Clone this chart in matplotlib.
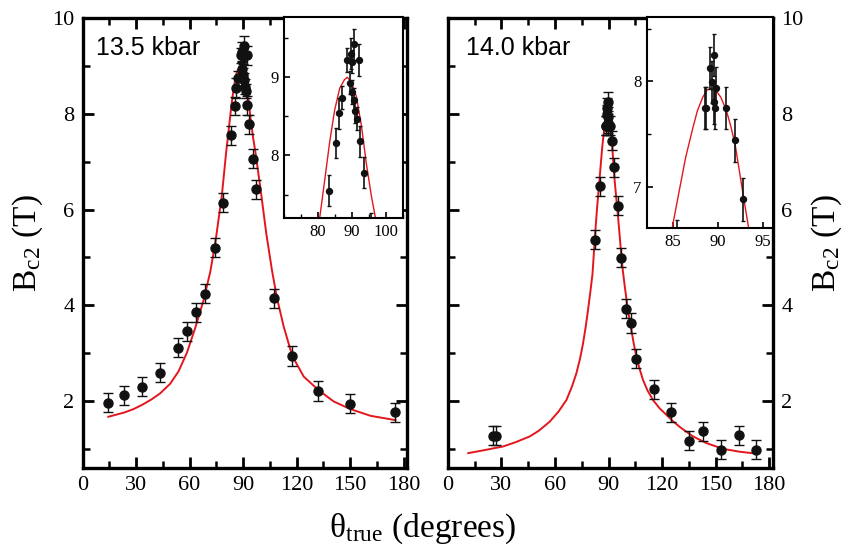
import numpy as np
import matplotlib
matplotlib.use("Agg")
import matplotlib.pyplot as plt
from matplotlib.ticker import MultipleLocator

plt.rcParams['font.family'] = ['Liberation Serif', 'DejaVu Serif']
plt.rcParams['mathtext.fontset'] = 'stix'

# 13.5 kbar data
th_a = [14.4, 23.4, 33.4, 43.3, 53.4, 58.5, 63.5, 68.4, 74.0, 78.7, 83.2, 85.2,
        86.2, 87.2, 88.6, 89.6, 89.4, 89.9, 90.0, 90.5, 90.5, 91.0, 91.5, 92.0,
        92.4, 93.4, 95.6, 97.4, 107.5, 117.6, 132.2, 150.0, 175.1]
b_a = [1.96, 2.12, 2.30, 2.59, 3.11, 3.46, 3.85, 4.24, 5.20, 6.14, 7.55, 8.16,
       8.54, 8.74, 9.22, 9.30, 8.93, 8.81, 9.20, 9.42, 8.71, 8.57, 8.47, 9.22,
       8.18, 7.78, 7.06, 6.42, 4.15, 2.94, 2.21, 1.94, 1.76]
err_a = [0.2, 0.2, 0.2, 0.2, 0.2, 0.2, 0.2, 0.2, 0.2, 0.2, 0.2, 0.19,
         0.2, 0.15, 0.15, 0.2, 0.15, 0.15, 0.15, 0.2, 0.15, 0.15, 0.15, 0.2,
         0.2, 0.2, 0.2, 0.2, 0.2, 0.2, 0.2, 0.2, 0.2]
fit_th_a = [14.4, 23.4, 28.5, 33.4, 38.5, 43.5, 49.1, 53.8, 58.5, 63.1, 67.8, 71.6,
            74.4, 78.1, 80.5, 82.0, 83.4, 84.9, 86.4, 87.8, 88.6, 89.8, 91.3, 92.8,
            94.2, 95.7, 96.9, 99.7, 103.0, 106.2, 109.0, 112.8, 117.6, 124.0,
            132.2, 140.8, 150.2, 161.5, 175.5]
fit_b_a = [1.67, 1.76, 1.83, 1.92, 2.03, 2.16, 2.36, 2.62, 3.01, 3.52, 4.10, 4.70,
           5.30, 6.30, 7.20, 7.69, 8.16, 8.58, 8.86, 8.97, 9.00, 8.94, 8.75, 8.37,
           7.90, 7.48, 7.20, 6.45, 5.50, 4.73, 4.15, 3.55, 2.94, 2.51,
           2.23, 1.99, 1.83, 1.69, 1.60]

# 14.0 kbar data
th_b = [25.4, 26.9, 82.3, 85.4, 88.5, 88.7, 89.1, 89.3, 89.5, 89.5, 89.7, 89.8,
        90.9, 91.9, 92.8, 95.3, 97.2, 100.0, 102.8, 105.2, 115.3, 125.2, 135.1,
        142.9, 153.2, 163.1, 172.4]
b_b = [1.27, 1.27, 5.37, 6.49, 7.75, 7.75, 8.13, 7.99, 8.25, 7.80, 7.75, 7.94,
       7.75, 7.44, 6.88, 6.08, 4.99, 3.93, 3.63, 2.88, 2.24, 1.76, 1.17,
       1.37, 0.98, 1.28, 0.98]
err_b = [0.2] * len(th_b)
fit_th_b = [11.4, 20.0, 31.0, 38.0, 45.9, 51.0, 57.1, 62.0, 66.4, 69.5, 72.0, 74.0,
            75.7, 77.2, 78.5, 79.8, 81.0, 82.5, 83.6, 84.9, 85.7, 86.4, 87.2, 87.7,
            88.3, 88.8, 89.2, 89.8, 90.3, 90.9, 91.4, 91.9, 92.8, 93.4, 94.3, 95.3,
            96.3, 97.2, 98.0, 99.0, 100.0, 101.4, 102.8, 104.2, 105.6, 107.3,
            109.3, 111.8, 114.9, 118.5, 122.4, 126.0, 129.8, 133.5, 137.3, 144.8,
            154.1, 163.4, 172.7]
fit_b_b = [0.91, 0.97, 1.05, 1.14, 1.26, 1.38, 1.57, 1.78, 2.02, 2.30, 2.58, 2.88,
           3.20, 3.55, 3.90, 4.28, 4.65, 5.50, 6.05, 6.61, 6.97, 7.28, 7.56, 7.72,
           7.85, 7.92, 7.93, 7.91, 7.85, 7.73, 7.58, 7.40, 6.92, 6.61, 6.25, 5.85,
           5.42, 5.02, 4.72, 4.42, 4.13, 3.78, 3.48, 3.18, 2.92, 2.68,
           2.44, 2.22, 2.02, 1.85, 1.71, 1.58, 1.46, 1.36, 1.26, 1.12,
           1.00, 0.94, 0.90]

xticks = [0, 30, 60, 90, 120, 150, 180]
red = '#e4161d'

fig = plt.figure(figsize=(8.45, 5.48), dpi=100)
ax1 = fig.add_axes([0.0978, 0.146, 0.384, 0.821])
ax2 = fig.add_axes([0.530, 0.146, 0.3846, 0.821])


def style_main(ax):
    ax.set_xlim(0, 182)
    ax.set_ylim(0.6, 10)
    ax.set_xticks(xticks)
    ax.xaxis.set_minor_locator(MultipleLocator(15))
    ax.yaxis.set_major_locator(MultipleLocator(2))
    ax.yaxis.set_minor_locator(MultipleLocator(1))
    ax.tick_params(which='both', direction='in', top=True, right=True,
                   labelsize=16, pad=6)
    ax.tick_params(which='major', length=8, width=2)
    ax.tick_params(which='minor', length=5, width=1.8)
    for s in ax.spines.values():
        s.set_linewidth(2.4)


for ax, th, b, e, fth, fb, lab, lx in [
        (ax1, th_a, b_a, err_a, fit_th_a, fit_b_a, '13.5 kbar', 0.04),
        (ax2, th_b, b_b, err_b, fit_th_b, fit_b_b, '14.0 kbar', 0.055)]:
    ax.plot(fth, fb, color=red, lw=1.4, zorder=2)
    ax.errorbar(th, b, yerr=e, fmt='o', color='#111111', ms=6.5, elinewidth=1.0,
                capsize=3.5, capthick=1.0, zorder=3)
    style_main(ax)
    ax.text(lx, 0.933, lab, transform=ax.transAxes, ha='left', va='center',
            fontsize=18, family=['Liberation Sans', 'DejaVu Sans'])

ax2.tick_params(axis='y', which='both', labelleft=False, labelright=True)

ylab = r'B$_\mathregular{c2}$ (T)'
fig.text(0.033, 0.556, ylab, rotation=90, ha='center', va='center', fontsize=24)
fig.text(0.978, 0.556, ylab, rotation=90, ha='center', va='center', fontsize=24)
fig.text(0.5, 0.035, r'θ$_\mathregular{true}$ (degrees)', ha='center', va='center',
         fontsize=24)

# insets
in1 = fig.add_axes([0.336, 0.602, 0.141, 0.367])
in1.plot(fit_th_a, fit_b_a, color=red, lw=1.0)
in1.errorbar(th_a, b_a, yerr=err_a, fmt='o', color='#111111', ms=4.3,
             elinewidth=1.2, capsize=1.5, capthick=1.0)
in1.set_xlim(70, 105)
in1.set_ylim(7.2, 9.77)
in1.set_xticks([80, 90, 100])
in1.xaxis.set_minor_locator(MultipleLocator(5))
in1.set_yticks([8, 9])
in1.yaxis.set_minor_locator(MultipleLocator(0.5))

in2 = fig.add_axes([0.7657, 0.584, 0.149, 0.385])
in2.plot(fit_th_b, fit_b_b, color=red, lw=1.0)
in2.errorbar(th_b, b_b, yerr=err_b, fmt='o', color='#111111', ms=4.3,
             elinewidth=1.2, capsize=1.5, capthick=1.0)
in2.set_xlim(82.1, 96.1)
in2.set_ylim(6.61, 8.61)
in2.set_xticks([85, 90, 95])
in2.set_yticks([7, 8])
in2.yaxis.set_minor_locator(MultipleLocator(0.5))

for ax in (in1, in2):
    ax.tick_params(which='both', direction='in', labelsize=12, pad=4)
    ax.tick_params(which='major', length=4, width=1.2)
    ax.tick_params(which='minor', length=3, width=1.0)
    for s in ax.spines.values():
        s.set_linewidth(1.5)

fig.savefig('out.png', dpi=100)
